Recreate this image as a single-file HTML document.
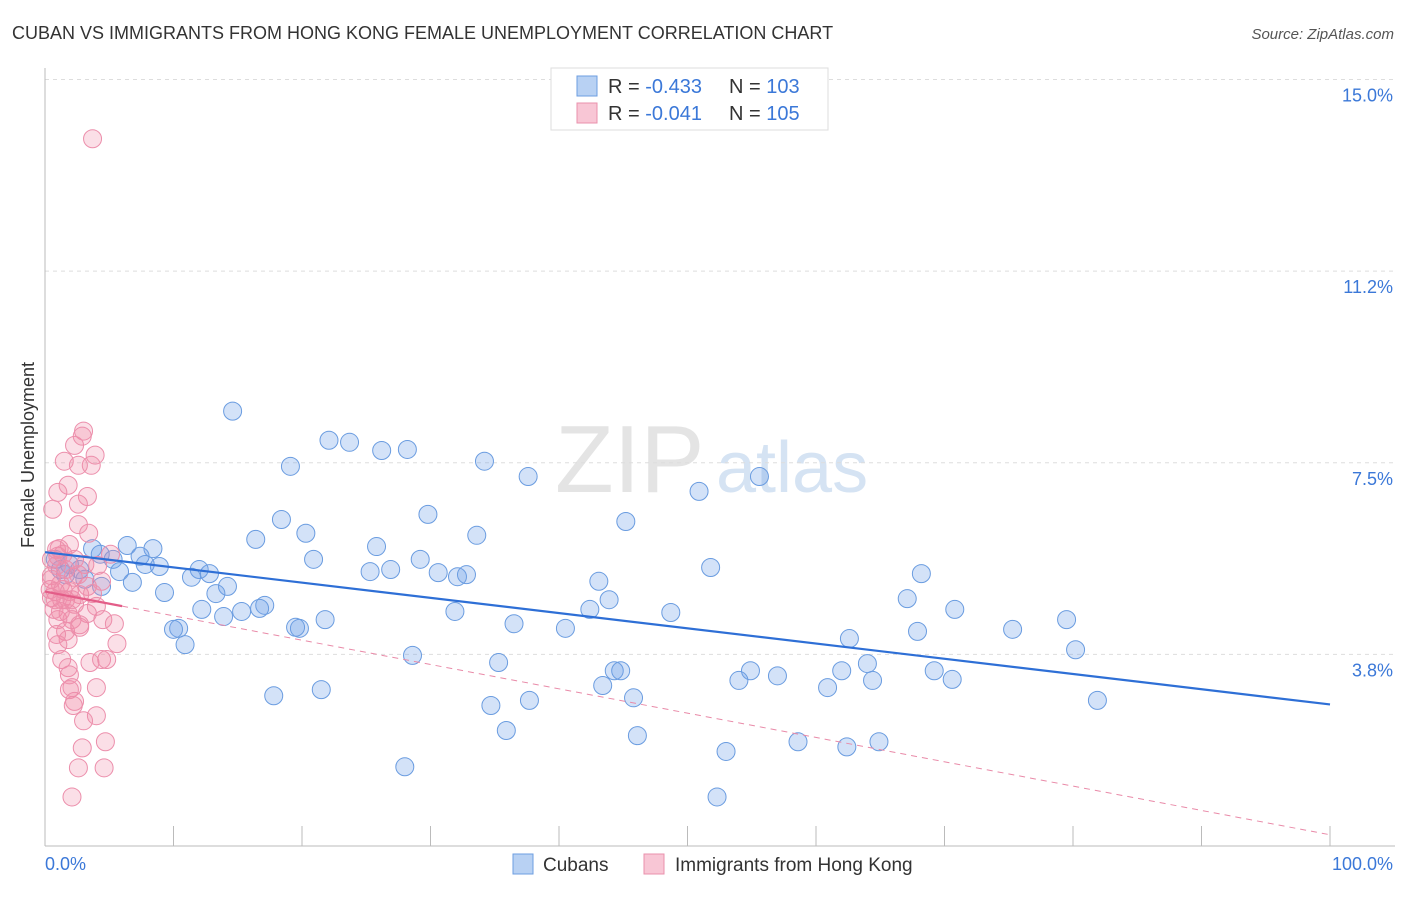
<!DOCTYPE html>
<html><head><meta charset="utf-8"><style>
body{margin:0;background:#fff;font-family:"Liberation Sans",sans-serif;}
svg text{font-family:"Liberation Sans",sans-serif;}
</style></head><body>
<svg id="chart" width="1406" height="892" viewBox="0 0 1406 892">
<text x="12" y="39" font-size="18" fill="#333">CUBAN VS IMMIGRANTS FROM HONG KONG FEMALE UNEMPLOYMENT CORRELATION CHART</text>
<text x="1394" y="39" font-size="15" fill="#555" font-style="italic" text-anchor="end">Source: ZipAtlas.com</text>
<text x="555" y="492" font-size="96" fill="#e4e4e4" font-family="Liberation Serif">ZIP</text>
<text x="716" y="492" font-size="72" fill="#d5e3f3">atlas</text>
<g id="grid"></g>
<g id="axes"></g>
<g id="pts"></g>
<g id="trend"></g>
<text transform="translate(34,455) rotate(-90)" font-size="18" fill="#333" text-anchor="middle">Female Unemployment</text>
<g>
<rect x="551" y="68" width="277" height="62" fill="#fff" stroke="#ddd"/>
<rect x="577" y="76" width="20" height="20" fill="#b8d1f3" stroke="#6d9ee0"/>
<text x="608" y="93" font-size="20" fill="#333">R = <tspan fill="#3b78d8">-0.433</tspan><tspan x="729">N = </tspan><tspan fill="#3b78d8">103</tspan></text>
<rect x="577" y="103" width="20" height="20" fill="#f8c6d5" stroke="#ea90ac"/>
<text x="608" y="120" font-size="20" fill="#333">R = <tspan fill="#3b78d8">-0.041</tspan><tspan x="729">N = </tspan><tspan fill="#3b78d8">105</tspan></text>
</g>
<g>
<rect x="513" y="854" width="20" height="20" fill="#b8d1f3" stroke="#6d9ee0"/>
<text x="543" y="871" font-size="19" fill="#333">Cubans</text>
</g>
<g>
<rect x="644" y="854" width="20" height="20" fill="#f8c6d5" stroke="#ea90ac"/>
<text x="675" y="871" font-size="19" fill="#333">Immigrants from Hong Kong</text>
</g>
</svg>
<script>
const yTicks=[3.75,7.5,11.25,15];
const yTickLabels=["3.8%","7.5%","11.2%","15.0%"];
const xTickCount=10;
const blueX=[14.6,22.1,23.7,26.2,28.2,34.2,19.1,37.6,50.9,55.6,29.8,18.4,45.2,16.4,20.3,33.6,25.8,29.2,20.9,8.4,6.4,3.7,4.3,7.4,5.3,7.8,8.9,5.8,25.3,26.9,30.6,32.1,32.8,12.0,12.8,11.4,6.8,4.4,51.8,68.2,43.1,14.2,9.3,13.3,43.9,67.1,17.1,15.3,16.7,12.2,13.9,31.9,42.4,48.7,70.8,79.5,21.8,36.5,10.4,10.0,19.8,19.5,40.5,67.9,75.3,62.6,10.9,80.2,28.6,35.3,64.0,44.3,44.8,54.9,57.0,62.0,69.2,70.6,64.4,54.0,43.4,60.9,17.8,21.5,45.8,37.7,34.7,81.9,35.9,46.1,53.0,58.6,62.4,64.9,28.0,52.3,0.8,1.9,1.6,3.1,2.7,1.2];
const blueY=[8.51,7.94,7.90,7.74,7.76,7.53,7.43,7.23,6.94,7.23,6.49,6.39,6.35,6.00,6.12,6.08,5.86,5.61,5.61,5.82,5.88,5.82,5.71,5.67,5.61,5.51,5.47,5.37,5.37,5.41,5.35,5.27,5.31,5.41,5.33,5.26,5.16,5.08,5.45,5.33,5.18,5.08,4.96,4.94,4.82,4.84,4.71,4.59,4.65,4.63,4.49,4.59,4.63,4.57,4.63,4.43,4.43,4.35,4.26,4.24,4.26,4.28,4.26,4.20,4.24,4.06,3.94,3.84,3.73,3.59,3.57,3.43,3.43,3.43,3.33,3.43,3.43,3.26,3.24,3.24,3.14,3.10,2.94,3.06,2.90,2.85,2.75,2.85,2.26,2.16,1.85,2.04,1.94,2.04,1.55,0.96,5.61,5.51,5.31,5.22,5.41,5.41];
const pinkX=[3.7,3.0,2.9,2.3,3.9,1.5,3.6,2.6,1.8,1.0,3.3,0.6,2.6,2.6,3.4,1.1,1.9,1.0,1.4,0.5,2.3,3.1,4.1,5.1,0.9,1.6,0.5,2.2,1.2,3.3,4.4,0.8,1.9,2.7,3.7,0.5,1.3,2.3,4.0,0.7,1.8,3.3,1.0,2.1,2.7,4.5,5.4,1.6,2.7,1.8,1.0,5.6,1.3,1.8,3.5,4.4,4.8,1.9,2.1,1.9,4.0,2.3,2.2,4.0,3.0,4.7,2.9,2.6,4.6,2.1,0.5,0.8,1.2,0.4,0.9,1.6,2.6,1.4,2.1,0.9];
const pinkY=[13.84,8.12,8.02,7.84,7.65,7.53,7.45,7.45,7.06,6.92,6.84,6.59,6.69,6.29,6.12,5.82,5.90,5.67,5.71,5.61,5.61,5.51,5.49,5.71,5.49,5.41,5.29,5.26,5.12,5.08,5.18,4.98,4.98,4.92,4.94,4.86,4.82,4.73,4.69,4.63,4.55,4.55,4.43,4.43,4.33,4.43,4.35,4.20,4.28,4.04,3.94,3.96,3.65,3.49,3.59,3.65,3.65,3.35,3.10,3.06,3.10,2.83,2.75,2.55,2.45,2.04,1.92,1.53,1.53,0.96,5.22,4.82,4.59,5.02,4.14,4.82,5.31,5.02,4.82,5.80];
const blueTrend=[5.75,2.77];
const pinkTrend=[4.98,0.22];
const pinkSolidEnd=6;

const NS="http://www.w3.org/2000/svg";
const X0=45,X1=1330,Y0=846,YS=51.1;
function xs(v){return X0+(X1-X0)*v/100;}
function ys(v){return Y0-v*YS;}
function mk(tag,attrs,parent){const e=document.createElementNS(NS,tag);for(const k in attrs)e.setAttribute(k,attrs[k]);parent.appendChild(e);return e;}
const grid=document.getElementById('grid'),axes=document.getElementById('axes'),pts=document.getElementById('pts'),trend=document.getElementById('trend');
yTicks.forEach((t,i)=>{
  const l=mk('line',{x1:X0,x2:1395,y1:ys(t),y2:ys(t),stroke:'#ddd','stroke-dasharray':'4,4'},grid);
  
  
  const tx=mk('text',{x:1393,y:ys(t)+22,'font-size':18,fill:'#3b78d8','text-anchor':'end'},axes);
  tx.textContent=yTickLabels[i];
  
  
});
const ya=mk('line',{x1:X0,x2:X0,y1:68,y2:Y0,stroke:'#bbb'},axes);


const xa=mk('line',{x1:X0,x2:1395,y1:Y0,y2:Y0,stroke:'#bbb'},axes);


for(let i=0;i<=xTickCount;i++){
  const t=mk('line',{x1:xs(i*10),x2:xs(i*10),y1:826,y2:Y0,stroke:'#bbb'},axes);
  
  
}
const xl0=mk('text',{x:45,y:870,'font-size':18,fill:'#3b78d8'},axes);xl0.textContent='0.0%';


const xl1=mk('text',{x:1393,y:870,'font-size':18,fill:'#3b78d8','text-anchor':'end'},axes);xl1.textContent='100.0%';


blueX.forEach((x,i)=>{
  const c=mk('circle',{cx:xs(x),cy:ys(blueY[i]),r:9,fill:'rgba(110,160,232,0.3)',stroke:'#6a9ce0','stroke-width':1},pts);
  
  
});
pinkX.forEach((x,i)=>{
  const c=mk('circle',{cx:xs(x),cy:ys(pinkY[i]),r:9,fill:'rgba(242,140,170,0.28)',stroke:'#ec8eab','stroke-width':1},pts);
  
  
});
function tv(tr,x){return tr[0]+(tr[1]-tr[0])*x/100;}
const bl=mk('line',{x1:xs(0),y1:ys(blueTrend[0]),x2:xs(100),y2:ys(blueTrend[1]),stroke:'#2e6fd6','stroke-width':2.2},trend);


const pd=mk('line',{x1:xs(pinkSolidEnd),y1:ys(tv(pinkTrend,pinkSolidEnd)),x2:xs(100),y2:ys(pinkTrend[1]),stroke:'#e98aa8','stroke-width':1,'stroke-dasharray':'6,5'},trend);


const ps=mk('line',{x1:xs(0),y1:ys(pinkTrend[0]),x2:xs(pinkSolidEnd),y2:ys(tv(pinkTrend,pinkSolidEnd)),stroke:'#e35d88','stroke-width':2.2},trend);


</script>
</body></html>
